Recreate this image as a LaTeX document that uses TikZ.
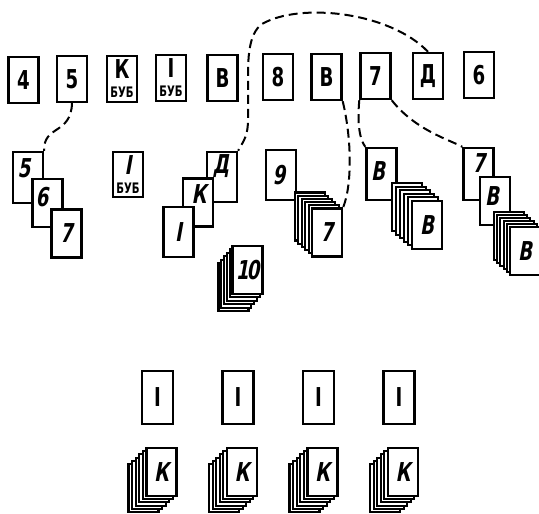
\documentclass[tikz,border=0pt]{standalone}
\usepackage{fontspec}
\newfontfamily\cardfont[FakeStretch=0.7]{DejaVu Sans}
\newfontfamily\cardslant[FakeStretch=0.7,FakeSlant=0.18]{DejaVu Sans}
\newcommand\suit{\fontsize{14.5}{14.5}\selectfont БУБ}

\tikzset{
  card/.style={draw, fill=white, line width=2.4pt, minimum width=30pt,
    minimum height=48pt, inner sep=0pt, align=center,
    font=\cardfont\bfseries\fontsize{26}{26}\selectfont},
  slanted/.style={font=\cardslant\bfseries\fontsize{26}{26}\selectfont},
  face/.style={inner sep=0pt, font=\cardslant\bfseries\fontsize{26}{26}\selectfont},
  layer/.style={draw, fill=white, line width=2.1pt},
  link/.style={line width=2pt, dash pattern=on 9pt off 5pt},
}

% pile: name, x, y, text, step x, step y
\newcommand\cardpile[6]{%
  \foreach \i in {5,...,1}
    \draw[layer] (#2+\i*#5-15, #3+\i*#6-24) rectangle +(30,48);
  \node[card, slanted] (#1) at (#2,#3) {#4};
}

\begin{document}
\begin{tikzpicture}[x=1pt, y=-1pt]
\useasboundingbox (0,0) rectangle (539,514);

% row on the table
\foreach \name/\x/\y/\txt in {four/23.5/80/4, five/72/79/5, kingD/122/79/{К\\[-7pt]\suit},
    aceD/171/78/{I\\[-7pt]\suit}, jackA/222.5/78/В, eight/278/77/8, jackB/326.5/77/В,
    seven/375.5/76/7, queen/428/76/Д, six/479/75/6}
  \node[card, minimum height=46pt] (\name) at (\x,\y) {\txt};

% second row
\node[card, minimum height=51pt] (five2) at (28,177.5) {};
\node[face] (five2-t) at (24,168) {5};
\node[card] (six2) at (47.5,203) {};
\node[face] (six2-t) at (42,197) {6};
\node[card, slanted] (seven2) at (66.5,233.5) {7};

\node[card, minimum height=45pt] (aceD2) at (128,174.5) {\cardslant I\\[-7pt]\suit};

\node[card, minimum height=50pt] (queen2) at (222,177) {};
\node[face] (queen2-t) at (221,166) {Д};
\node[card] (king2) at (198,202.5) {};
\node[face] (king2-t) at (199,194) {К};
\node[card, slanted, minimum height=50pt] (ace2) at (178.5,232) {I};

\cardpile{tenpile}{247.5}{270}{1\kern-2pt0}{-2.8}{3.4}

\node[card, minimum height=50pt] (nine2) at (281,175) {};
\node[face] (nine2-t) at (279,175) {9};
\cardpile{sevenpile}{327}{232.5}{7}{-3.4}{-3.2}

\node[card, minimum height=52pt] (jack2) at (381.5,174) {};
\node[face] (jack2-t) at (378,171) {В};
\cardpile{jackpile}{427}{225}{В}{-4}{-3.6}

\node[card, minimum height=52pt] (sevenR) at (478.5,174) {};
\node[face] (sevenR-t) at (479,163) {7};
\node[card] (jackR) at (495,201) {};
\node[face] (jackR-t) at (492,196) {В};
\cardpile{jackpileR}{525}{251}{В}{-3.2}{-3}

% bottom
\foreach \n/\x in {a/157.5, b/238, c/318.5, d/399} {
  \node[card, minimum height=53pt, minimum width=31pt] (ace3\n) at (\x,397.5) {I};
  \cardpile{kingpile\n}{\x+4}{472}{К}{-3.6}{3.2}
}

% moves
\draw[link] (five.south) .. controls (71,135) and (43,125) .. (five2.north east);
\draw[link] (queen.north) .. controls (390,12) and (300,2) .. (262,24)
  .. controls (248,34) and (248,60) .. (248,80) -- (248,120)
  .. controls (248,140) and (240,145) .. (queen2.north east);
\draw[link] (jackB.south east) .. controls (352,140) and (352,185) .. (sevenpile.north east);
\draw[link] (seven.south west) .. controls (357,125) and (360,140) .. (jack2.north west);
\draw[link] (seven.south east) .. controls (415,130) and (450,140) .. (sevenR.north west);
\end{tikzpicture}
\end{document}
